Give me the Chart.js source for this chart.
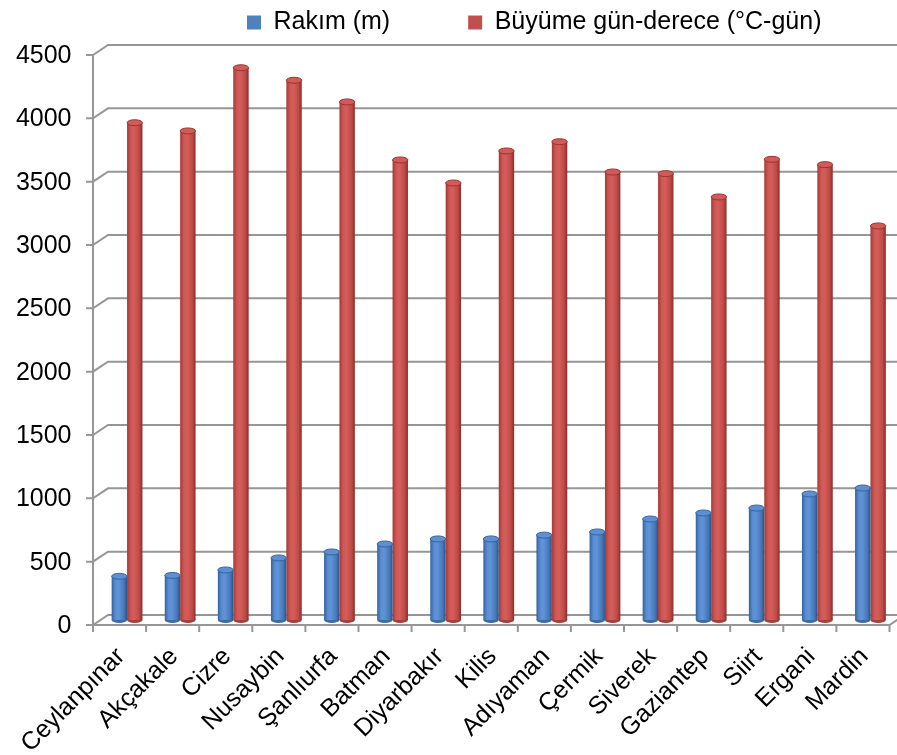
<!DOCTYPE html>
<html>
<head>
<meta charset="utf-8">
<script src="https://cdn.jsdelivr.net/npm/chart.js@4.4.1/dist/chart.umd.min.js"></script>
<style>
html,body{margin:0;padding:0;background:#ffffff;}
#wrap{width:897px;height:755px;position:relative;}
</style>
</head>
<body>
<div id="wrap"><canvas id="c" width="897" height="755"></canvas></div>
<script>
// ---- data ----
const categories = ['Ceylanpınar','Akçakale','Cizre','Nusaybin','Şanlıurfa','Batman','Diyarbakır','Kilis','Adıyaman','Çermik','Siverek','Gaziantep','Siirt','Ergani','Mardin'];
const rakim = [345, 352, 395, 490, 537, 600, 640, 640, 670, 695, 797, 845, 884, 995, 1042];
const buyumeGunDerece = [3926, 3861, 4360, 4261, 4090, 3632, 3450, 3703, 3776, 3537, 3524, 3340, 3637, 3595, 3111];
const seriesNames = ['Rakım (m)', 'Büyüme gün-derece (°C-gün)'];
const yMin = 0, yMax = 4500, yStep = 500;

// ---- styles ----
const FONT = "'Liberation Sans', Arial, Helvetica, sans-serif";
const legendColors = ['#4f81bd', '#c0504d'];
const gradStops = [
  [[0,'#3463a0'],[0.25,'#5a8dd2'],[0.45,'#6094d7'],[0.8,'#4578b9'],[1,'#2c5386']],
  [[0,'#a33a37'],[0.25,'#d05754'],[0.45,'#d45e5a'],[0.8,'#bd4946'],[1,'#892c2a']]
];
const capColors = [['#5d8fd2','#36649f'],['#d35a57','#9a3532']];
const baseColors = ['#3a6aa8','#a83d3a'];
const DX = 7.5, DY = 5;
const CAT_PCT = 0.58, BAR_PCT = 1.0;
const GRID = '#969696';

Chart.defaults.font.family = FONT;
Chart.defaults.color = '#000000';

function barGeom(chart, datasetIndex, dataIndex) {
  const xs = chart.scales.x;
  const n = categories.length;
  const catW = (chart.chartArea.right - chart.chartArea.left) / n;
  const w = catW * CAT_PCT * BAR_PCT / 2;
  const cx = xs.getPixelForValue(dataIndex) + (datasetIndex === 0 ? -w / 2 : w / 2);
  return {cx, w};
}

function cylFill(ctx) {
  const chart = ctx.chart;
  const di = ctx.datasetIndex;
  if (!chart.chartArea || !chart.scales.x) return legendColors[di];
  const {cx, w} = barGeom(chart, di, ctx.dataIndex);
  const g = chart.ctx.createLinearGradient(cx - w / 2, 0, cx + w / 2, 0);
  gradStops[di].forEach(s => g.addColorStop(s[0], s[1]));
  return g;
}

const depthPlugin = {
  id: 'depth3d',
  beforeDatasetsDraw(chart) {
    const {ctx, chartArea, scales} = chart;
    const x = scales.x, y = scales.y;
    const n = categories.length;
    const catW = (chartArea.right - chartArea.left) / n;
    const frontL = chartArea.left - DX, backL = chartArea.left + DX;
    const frontR = chartArea.right - DX, backR = chartArea.right + DX;
    ctx.save();
    ctx.strokeStyle = GRID;
    ctx.lineWidth = 2;
    ctx.lineCap = 'butt';
    y.ticks.forEach(t => {
      const py = y.getPixelForValue(t.value);
      ctx.beginPath();
      ctx.moveTo(frontL - 7, py + DY);
      ctx.lineTo(frontL, py + DY);
      ctx.lineTo(backL, py - DY);
      ctx.lineTo(backR + 40, py - DY);
      ctx.stroke();
    });
    const y0 = y.getPixelForValue(yMin), yT = y.getPixelForValue(yMax);
    ctx.beginPath();
    ctx.moveTo(frontL, yT + DY);
    ctx.lineTo(frontL, y0 + DY);
    ctx.lineTo(frontR, y0 + DY);
    ctx.lineTo(backR, y0 - DY);
    ctx.stroke();
    for (let i = 0; i <= n; i++) {
      const px = chartArea.left + i * catW - DX;
      ctx.beginPath();
      ctx.moveTo(px, y0 + DY);
      ctx.lineTo(px, y0 + DY + 7);
      ctx.stroke();
    }
    chart.data.datasets.forEach((ds, di) => {
      const meta = chart.getDatasetMeta(di);
      meta.data.forEach(el => {
        ctx.beginPath();
        ctx.ellipse(el.x, el.base, el.width / 2, 3, 0, 0, Math.PI * 2);
        ctx.fillStyle = baseColors[di];
        ctx.fill();
      });
    });
    ctx.restore();
  },
  afterDatasetsDraw(chart) {
    const {ctx} = chart;
    ctx.save();
    chart.data.datasets.forEach((ds, di) => {
      const meta = chart.getDatasetMeta(di);
      meta.data.forEach(el => {
        ctx.beginPath();
        ctx.ellipse(el.x, el.y, el.width / 2, 3, 0, 0, Math.PI * 2);
        ctx.fillStyle = capColors[di][0];
        ctx.fill();
        ctx.lineWidth = 1;
        ctx.strokeStyle = capColors[di][1];
        ctx.stroke();
      });
    });
    ctx.restore();
  }
};

const LEG_PAD = 78;
const legendPlace = {
  id: 'legendPlace',
  beforeLayout(chart) {
    const lg = chart.legend;
    if (lg && !lg._wrappedFit) {
      const f = lg.fit;
      lg.fit = function () { f.call(this); this.height = 50; };
      lg._wrappedFit = true;
    }
  },
  afterLayout(chart) {
    const lg = chart.legend;
    if (!lg) return;
    lg.left = 247 - LEG_PAD;
    lg.right = 897 + 400;
    lg.top = 10 - LEG_PAD;
    lg.bottom = 48;
  }
};

new Chart(document.getElementById('c'), {
  type: 'bar',
  data: {
    labels: categories,
    datasets: [
      {label: seriesNames[0], data: rakim, backgroundColor: cylFill, borderWidth: 0},
      {label: seriesNames[1], data: buyumeGunDerece, backgroundColor: cylFill, borderWidth: 0}
    ]
  },
  options: {
    responsive: false,
    animation: false,
    devicePixelRatio: 1,
    datasets: {bar: {categoryPercentage: CAT_PCT, barPercentage: BAR_PCT}},
    layout: {padding: 0},
    plugins: {
      tooltip: {enabled: false},
      legend: {
        display: true,
        position: 'top',
        align: 'start',
        labels: {
          font: {size: 25, family: FONT},
          color: '#000',
          boxWidth: 14,
          boxHeight: 14,
          padding: LEG_PAD,
          generateLabels(chart) {
            const items = Chart.defaults.plugins.legend.labels.generateLabels(chart);
            items.forEach((it, i) => { it.fillStyle = legendColors[i]; it.strokeStyle = legendColors[i]; it.lineWidth = 0; });
            return items;
          }
        }
      }
    },
    scales: {
      x: {
        grid: {display: false, drawTicks: false},
        border: {display: false},
        ticks: {
          autoSkip: false,
          minRotation: 45,
          maxRotation: 45,
          padding: 22,
          labelOffset: -6,
          font: {size: 25, family: FONT},
          color: '#000'
        },
        afterFit(scale) { scale.height = 135; scale.paddingLeft = 0; scale.paddingRight = 0; }
      },
      y: {
        min: yMin,
        max: yMax,
        grid: {display: false, drawTicks: false},
        border: {display: false},
        ticks: {
          stepSize: yStep,
          padding: 29,
          labelOffset: DY + 1,
          font: {size: 25, family: FONT},
          color: '#000',
          callback: v => String(v)
        },
        afterFit(scale) { scale.width = 100.5; }
      }
    }
  },
  plugins: [depthPlugin, legendPlace]
});
</script>
</body>
</html>
